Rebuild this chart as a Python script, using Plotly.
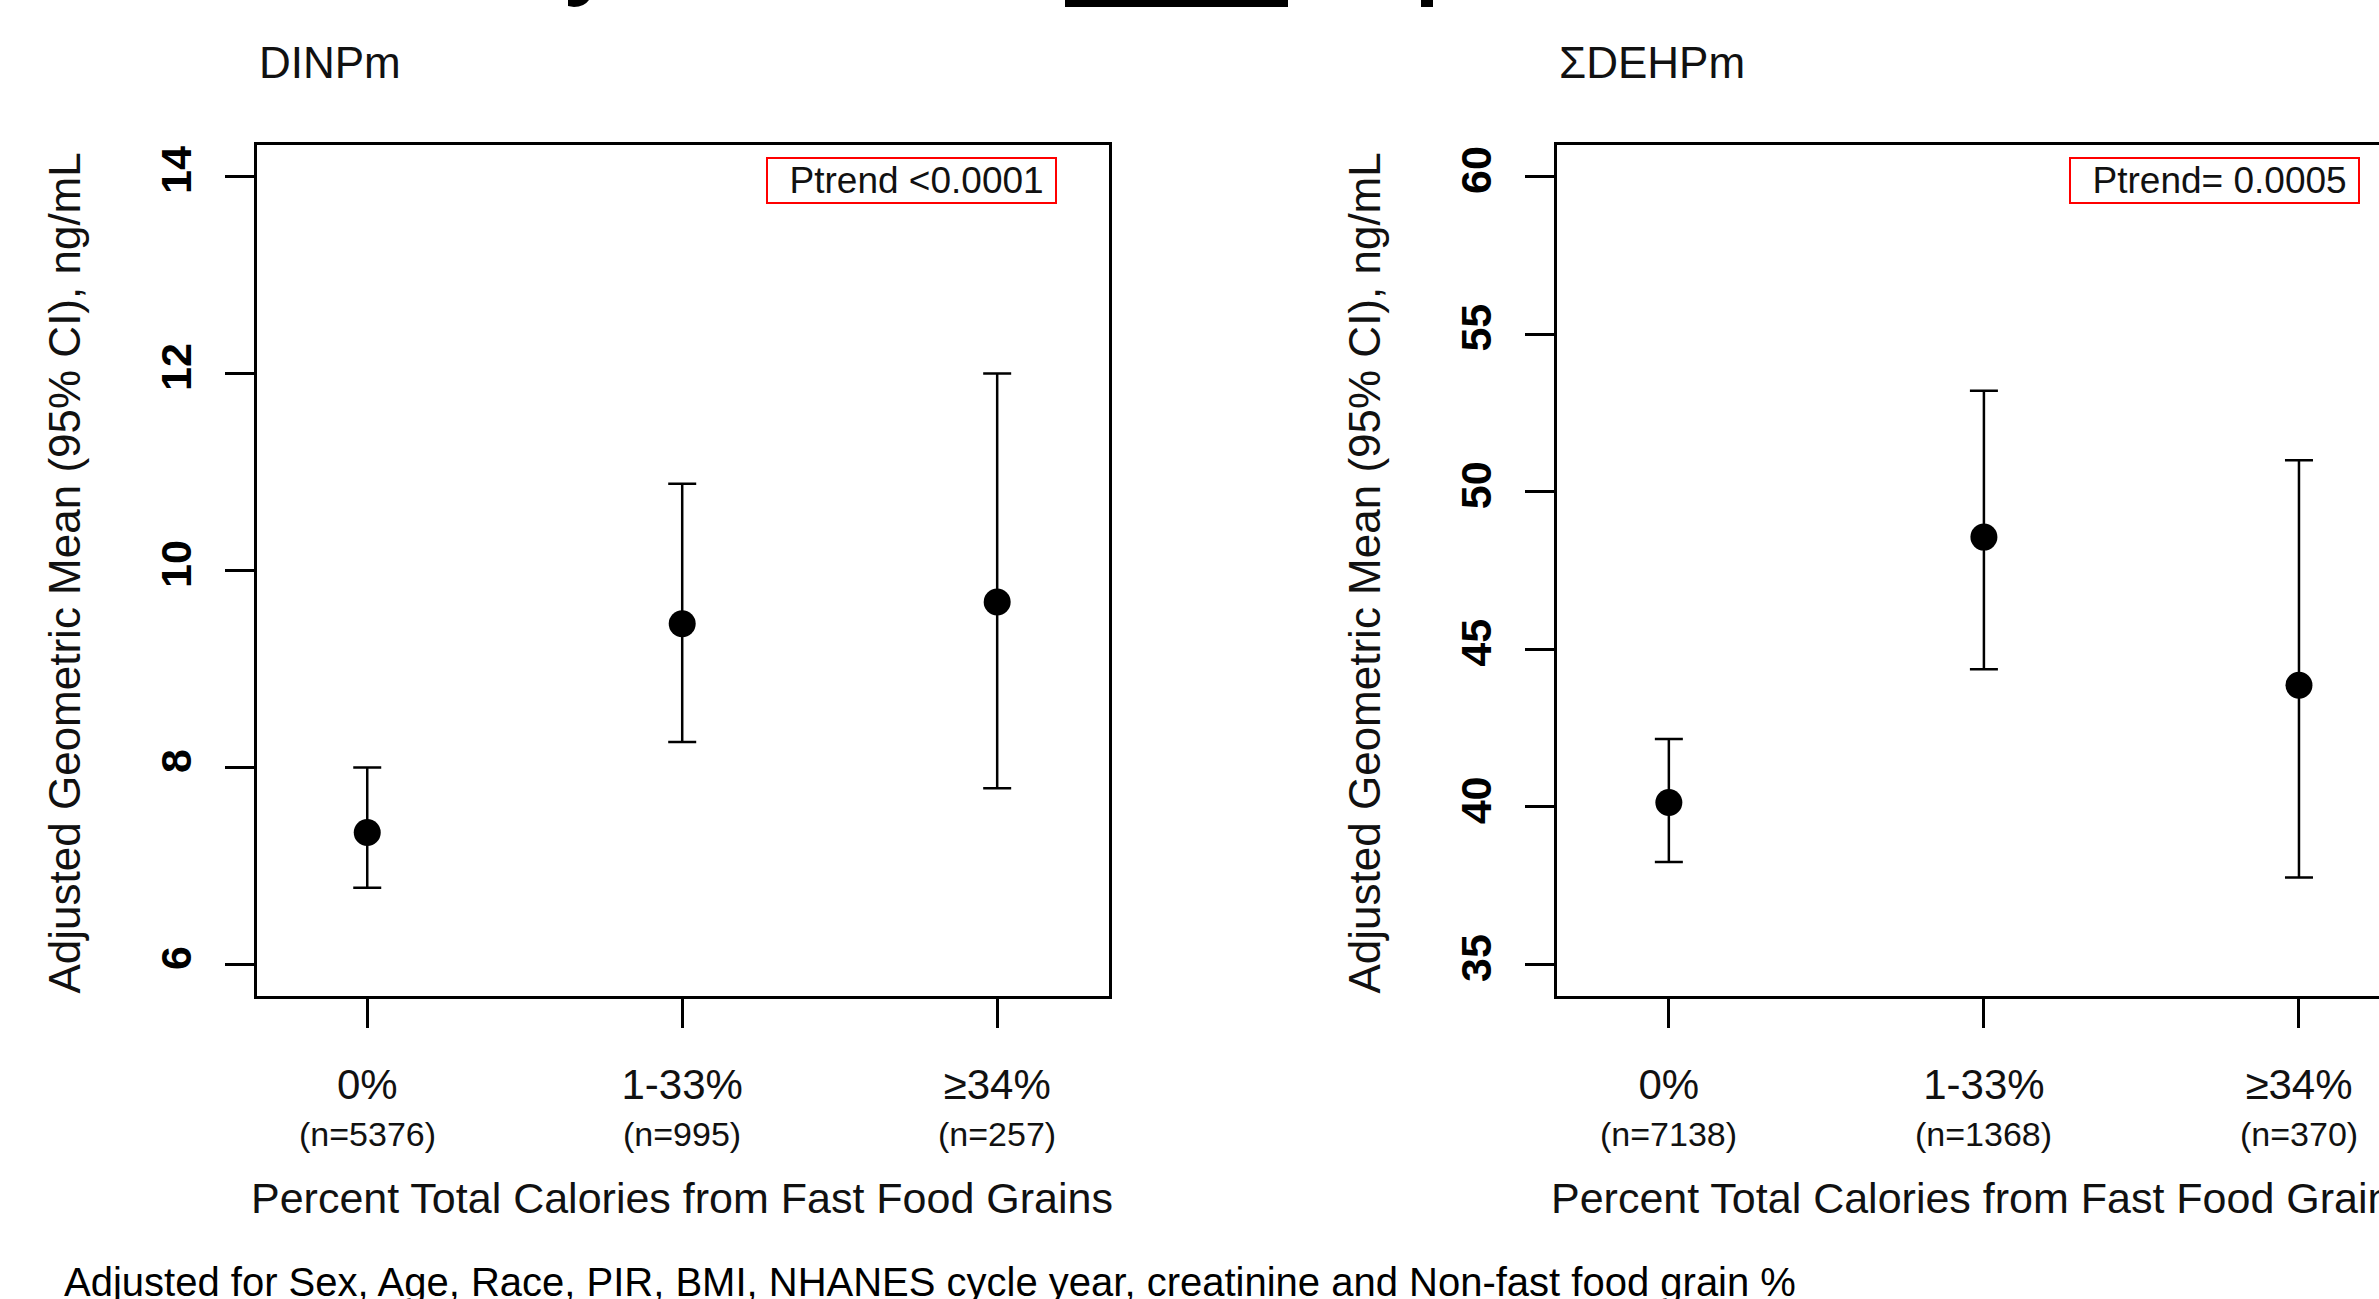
import plotly.graph_objects as go

W, H = 2379, 1299

# ---------------- data ----------------
categories = ["0%", "1-33%", "≥34%"]
x_pos = [1, 2, 3]

dinp_n = ["(n=5376)", "(n=995)", "(n=257)"]
dinp_mean = [7.34, 9.46, 9.68]
dinp_lower = [6.78, 8.26, 7.79]
dinp_upper = [8.00, 10.88, 12.00]
dinp_ptrend = "Ptrend &lt;0.0001"

dehp_n = ["(n=7138)", "(n=1368)", "(n=370)"]
dehp_mean = [40.14, 48.56, 43.86]
dehp_lower = [38.25, 44.37, 37.76]
dehp_upper = [42.15, 53.20, 51.00]
dehp_ptrend = "Ptrend= 0.0005"

dinp_ticks = [6, 8, 10, 12, 14]
dehp_ticks = [35, 40, 45, 50, 55, 60]

panel_titles = ["DINPm", "ΣDEHPm"]
y_title = "Adjusted Geometric Mean (95% CI), ng/mL"
x_title = "Percent Total Calories from Fast Food Grains"
footnote = "Adjusted for Sex, Age, Race, PIR, BMI, NHANES cycle year, creatinine and Non-fast food grain %"

FONT = "Liberation Sans, Arial, sans-serif"


def px(x):
    return x / W


def py(y):
    return 1 - y / H


# panel boxes in pixels
L_BOX = (257, 1109)
R_BOX = (1557, 2379)
TOP, BOT = 145, 996

fig = go.Figure()


def add_panel(xa, ya, mean, lo, up):
    fig.add_trace(go.Scatter(
        x=x_pos, y=mean, xaxis=xa, yaxis=ya, mode="markers",
        marker=dict(color="black", size=27, symbol="circle"),
        error_y=dict(type="data", symmetric=False,
                     array=[u - m for u, m in zip(up, mean)],
                     arrayminus=[m - l for m, l in zip(mean, lo)],
                     color="black", thickness=2.5, width=14),
        showlegend=False, hoverinfo="skip"))


add_panel("x", "y", dinp_mean, dinp_lower, dinp_upper)
add_panel("x2", "y2", dehp_mean, dehp_lower, dehp_upper)

xcommon = dict(tickmode="array", tickvals=x_pos, ticktext=categories,
               ticks="outside", ticklen=29, tickwidth=2.5, tickcolor="black",
               showline=True, linecolor="black", linewidth=2.5,
               showgrid=False, zeroline=False,
               tickfont=dict(family=FONT, size=42, color="#111"),
               ticklabelstandoff=21)
ycommon = dict(ticks="outside", ticklen=29, tickwidth=2.5, tickcolor="black",
               showline=True, linecolor="black", linewidth=2.5,
               showgrid=False, zeroline=False, tickangle=-90,
               tickfont=dict(family="Liberation Sans, Arial", size=43, color="black", weight="bold"),
               ticklabelstandoff=17)

fig.update_layout(
    width=W, height=H,
    margin=dict(l=0, r=0, t=0, b=0),
    paper_bgcolor="white", plot_bgcolor="white",
    xaxis=dict(domain=[px(L_BOX[0]), px(L_BOX[1])], range=[0.65, 3.355],
               anchor="y", mirror=True, **xcommon),
    yaxis=dict(domain=[py(BOT), py(TOP)], range=[5.68, 14.32], anchor="x",
               tickvals=dinp_ticks, mirror=True, **ycommon),
    xaxis2=dict(domain=[px(R_BOX[0]), 1.0], range=[0.645, 3.254],
                anchor="y2", mirror=True, **xcommon),
    yaxis2=dict(domain=[py(BOT), py(TOP)], range=[34, 61], anchor="x2",
                tickvals=dehp_ticks, mirror=False, **ycommon),
)

ann = []
for i, (box, xa, nlabels, pt) in enumerate([(L_BOX, "x", dinp_n, dinp_ptrend),
                                            (R_BOX, "x2", dehp_n, dehp_ptrend)]):
    # panel title
    ann.append(dict(text=panel_titles[i], xref="paper", yref="paper",
                    x=px(box[0]), y=py(63), xanchor="left", yanchor="middle",
                    showarrow=False, font=dict(family=FONT, size=44, color="#111")))
    # y title
    ann.append(dict(text=y_title, xref="paper", yref="paper",
                    x=px(box[0] - 193), y=py((TOP + BOT) / 2 + 3), textangle=-90,
                    xanchor="center", yanchor="middle", showarrow=False,
                    font=dict(family=FONT, size=44, color="#111")))
    # x title
    ann.append(dict(text=x_title, xref="paper", yref="paper",
                    x=px(box[0] - 8), y=py(1198), xanchor="left", yanchor="middle",
                    showarrow=False, font=dict(family=FONT, size=43, color="#111")))
    # n labels
    for xv, lab in zip(x_pos, nlabels):
        ann.append(dict(text=lab, xref=xa, yref="paper", x=xv, y=py(1134),
                        xanchor="center", yanchor="middle", showarrow=False,
                        font=dict(family=FONT, size=34, color="#111")))

# Ptrend boxes
for txt, xr in [(dinp_ptrend, 1057), (dehp_ptrend, 2360)]:
    ann.append(dict(text="&nbsp;&nbsp;" + txt + "&nbsp;", xref="paper", yref="paper",
                    x=px(xr), y=py(180), xanchor="right", yanchor="middle",
                    showarrow=False, bordercolor="red", borderwidth=2, borderpad=1,
                    bgcolor="white", font=dict(family=FONT, size=37, color="#111")))
# footnote
ann.append(dict(text=footnote, xref="paper", yref="paper",
                x=px(62), y=py(1282), xanchor="left", yanchor="middle",
                showarrow=False, font=dict(family=FONT, size=40, color="black")))

fig.update_layout(annotations=ann)

# cropped remains of a title above the image
shapes = [
    dict(type="rect", xref="paper", yref="paper", x0=px(1065), x1=px(1288),
         y0=py(7), y1=py(0), fillcolor="black", line=dict(width=0)),
    dict(type="rect", xref="paper", yref="paper", x0=px(1421), x1=px(1433),
         y0=py(7), y1=py(0), fillcolor="black", line=dict(width=0)),
    dict(type="path", xref="paper", yref="paper",
         path=f"M {px(568)},{py(0)} L {px(589)},{py(0)} Q {px(584)},{py(7)} {px(574)},{py(7)} L {px(568)},{py(6)} Z",
         fillcolor="black", line=dict(width=0)),
]
fig.update_layout(shapes=shapes)

fig.write_html("out.html", config={"displayModeBar": False},
               post_script="document.body.style.margin='0';document.body.style.overflow='hidden';")
